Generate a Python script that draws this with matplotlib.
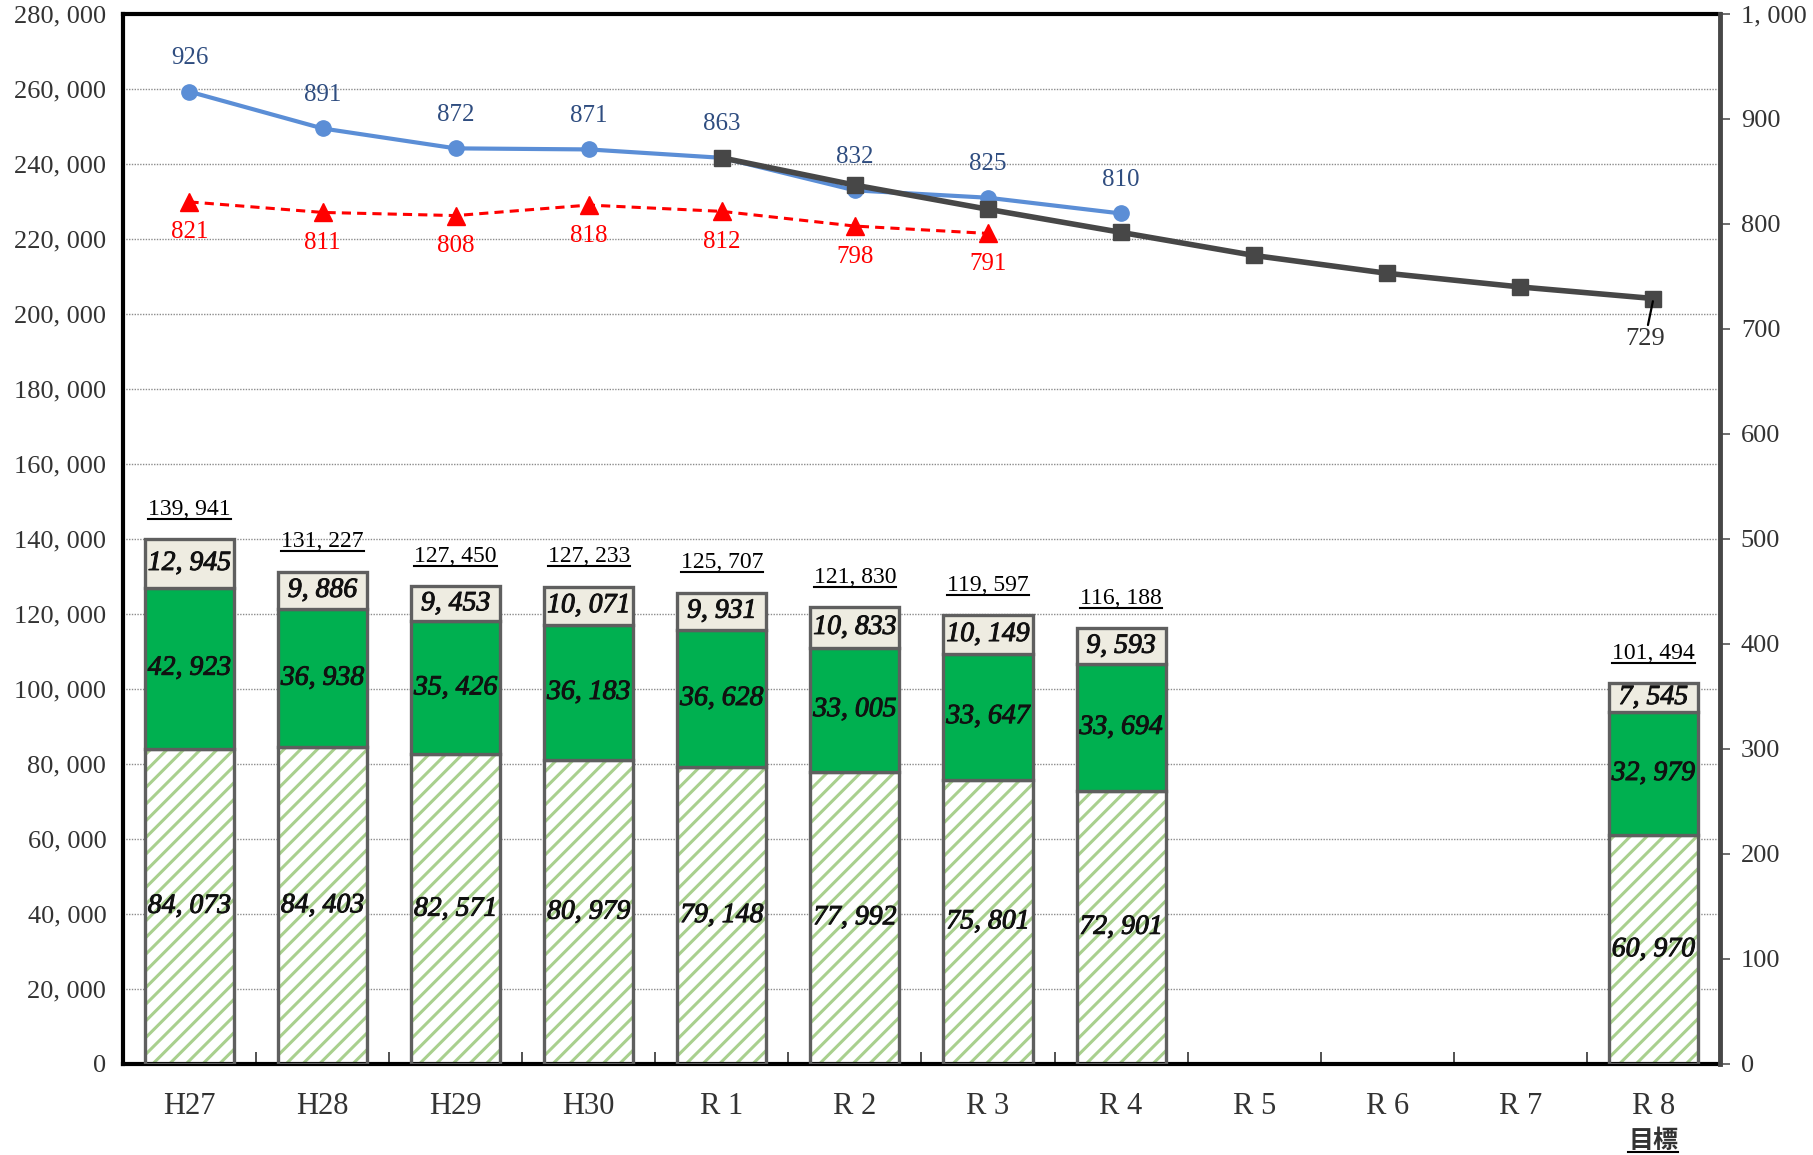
import matplotlib
matplotlib.use("Agg")
import matplotlib.pyplot as plt
import matplotlib.patheffects as pe
from matplotlib.lines import Line2D
import numpy as np

# ---- data -------------------------------------------------------------
categories = ["H27", "H28", "H29", "H30", "R 1", "R 2", "R 3", "R 4", "R 5", "R 6", "R 7", "R 8"]
bar_idx = [0, 1, 2, 3, 4, 5, 6, 7, 11]
seg_bottom = [84073, 84403, 82571, 80979, 79148, 77992, 75801, 72901, 60970]
seg_middle = [42923, 36938, 35426, 36183, 36628, 33005, 33647, 33694, 32979]
seg_top = [12945, 9886, 9453, 10071, 9931, 10833, 10149, 9593, 7545]
totals = [139941, 131227, 127450, 127233, 125707, 121830, 119597, 116188, 101494]

blue_idx = [0, 1, 2, 3, 4, 5, 6, 7]
blue_vals = [926, 891, 872, 871, 863, 832, 825, 810]
red_idx = [0, 1, 2, 3, 4, 5, 6]
red_vals = [821, 811, 808, 818, 812, 798, 791]
plan_idx = [4, 5, 6, 7, 8, 9, 10, 11]
plan_vals = [863, 837, 814, 792, 770, 753, 740, 729]

left_ticks = list(range(0, 280001, 20000))
right_ticks = list(range(0, 1001, 100))

# ---- style ------------------------------------------------------------
SERIF = ["Liberation Serif", "DejaVu Serif"]
plt.rcParams["font.family"] = SERIF
plt.rcParams["hatch.linewidth"] = 2.2

C_HATCH = "#A9D08E"
C_GREEN = "#00B050"
C_BEIGE = "#EEECE1"
C_EDGE = "#5F5F5F"
C_BLUE = "#5B8ED6"
C_BLUE_TXT = "#2F4D80"
C_RED = "#FF0000"
C_PLAN = "#474747"
C_TXT = "#333333"


def fmt(v):
    return f"{v:,}".replace(",", ", ")


fig = plt.figure(figsize=(18.13, 11.55), dpi=100)
ax = fig.add_axes([0.0678, 0.0788, 0.8809, 0.9091])
ax2 = ax.twinx()

x = np.array(bar_idx, dtype=float)
w = 0.67
b1 = np.array(seg_bottom, dtype=float)
b2 = b1 + np.array(seg_middle)

# hatched lower segment
ax.bar(x, seg_bottom, w, color="white", edgecolor=C_HATCH, hatch="//", linewidth=0, zorder=2)
ax.bar(x, seg_bottom, w, fill=False, edgecolor=C_EDGE, linewidth=2.4, zorder=3)
ax.bar(x, seg_middle, w, bottom=b1, color=C_GREEN, edgecolor=C_EDGE, linewidth=2.4, zorder=3)
ax.bar(x, seg_top, w, bottom=b2, color=C_BEIGE, edgecolor=C_EDGE, linewidth=2.4, zorder=3)

# slightly heavier italic for the segment values
heavy = [pe.withStroke(linewidth=0.7, foreground="#111111")]
lab_kw = dict(ha="center", va="center", fontsize=20, style="italic",
              color="#111111", zorder=5, path_effects=heavy)
for xi, a, m, t in zip(x, seg_bottom, seg_middle, seg_top):
    ax.text(xi, a / 2, fmt(a), **lab_kw)
    ax.text(xi, a + m / 2, fmt(m), **lab_kw)
    ax.text(xi, a + m + t / 2, fmt(t), **lab_kw)

total_texts = []
for xi, tot in zip(x, totals):
    t = ax.annotate(fmt(tot), (xi, tot), xytext=(0, 14), textcoords="offset points",
                    ha="center", va="bottom", fontsize=17, color="black", zorder=5)
    total_texts.append(t)

# axes ranges / grid
ax.set_xlim(-0.5, 11.5)
ax.set_ylim(0, 280000)
ax.set_yticks(left_ticks)
ax.set_yticklabels([fmt(v) for v in left_ticks], fontsize=19, color=C_TXT)
ax.tick_params(axis="y", length=0, pad=12)
ax.yaxis.grid(True, linestyle=(0, (1, 1)), color="#8C8C8C", linewidth=1.0)
ax.set_axisbelow(True)
ax.set_xticks(range(len(categories)))
ax.set_xticklabels(categories, fontsize=22, color=C_TXT)
ax.tick_params(axis="x", which="major", length=0, pad=20)
ax.set_xticks(np.arange(0.5, 11, 1.0), minor=True)
ax.tick_params(axis="x", which="minor", direction="in", length=9, width=1.2, color=C_TXT)

for s in ["left", "top", "bottom"]:
    ax.spines[s].set_linewidth(3)
    ax.spines[s].set_color("black")
ax.spines["right"].set_visible(False)

ax2.set_ylim(0, 1000)
ax2.set_yticks(right_ticks)
ax2.set_yticklabels([fmt(v) for v in right_ticks], fontsize=19, color=C_TXT)
ax2.tick_params(axis="y", direction="out", length=7, width=1.2, color="#555555", pad=8)
ax2.spines["right"].set_linewidth(3.5)
ax2.spines["right"].set_color(C_PLAN)
for s in ["left", "top", "bottom"]:
    ax2.spines[s].set_visible(False)

# lines on the right axis
ax2.plot(blue_idx, blue_vals, color=C_BLUE, lw=3, marker="o", ms=11, zorder=4)
ax2.plot(red_idx, red_vals, color=C_RED, lw=2.2, ls=(0, (3, 2)), marker="^", ms=13, zorder=4)
ax2.plot(plan_idx, plan_vals, color=C_PLAN, lw=4, marker="s", ms=12, zorder=5)

for xi, v in zip(blue_idx, blue_vals):
    ax2.annotate(str(v), (xi, v), xytext=(0, 24), textcoords="offset points",
                 ha="center", va="center", fontsize=18, color=C_BLUE_TXT)
for xi, v in zip(red_idx, red_vals):
    ax2.annotate(str(v), (xi, v), xytext=(0, -22), textcoords="offset points",
                 ha="center", va="center", fontsize=18, color=C_RED)
ax2.annotate(str(plan_vals[-1]), (plan_idx[-1], plan_vals[-1]), xytext=(-6, -29),
             textcoords="offset points", ha="center", va="center", fontsize=19, color=C_TXT,
             zorder=6,
             arrowprops=dict(arrowstyle="-", color="black", lw=1.6, shrinkA=0, shrinkB=2))

goal = ax.text(11, -0.073, "目標", transform=ax.get_xaxis_transform(), ha="center", va="center",
               fontsize=18, fontweight="bold", family=["Noto Sans CJK JP", "DejaVu Sans"],
               color=C_TXT)

# underline the totals and the goal label
fig.canvas.draw()
renderer = fig.canvas.get_renderer()
W, H = fig.bbox.width, fig.bbox.height
for t in total_texts + [goal]:
    bb = t.get_window_extent(renderer)
    y = bb.y0 + 1
    fig.add_artist(Line2D([bb.x0 / W, bb.x1 / W], [y / H, y / H], transform=fig.transFigure,
                          color="black", lw=1.5))

fig.savefig("out.png", dpi=100)
